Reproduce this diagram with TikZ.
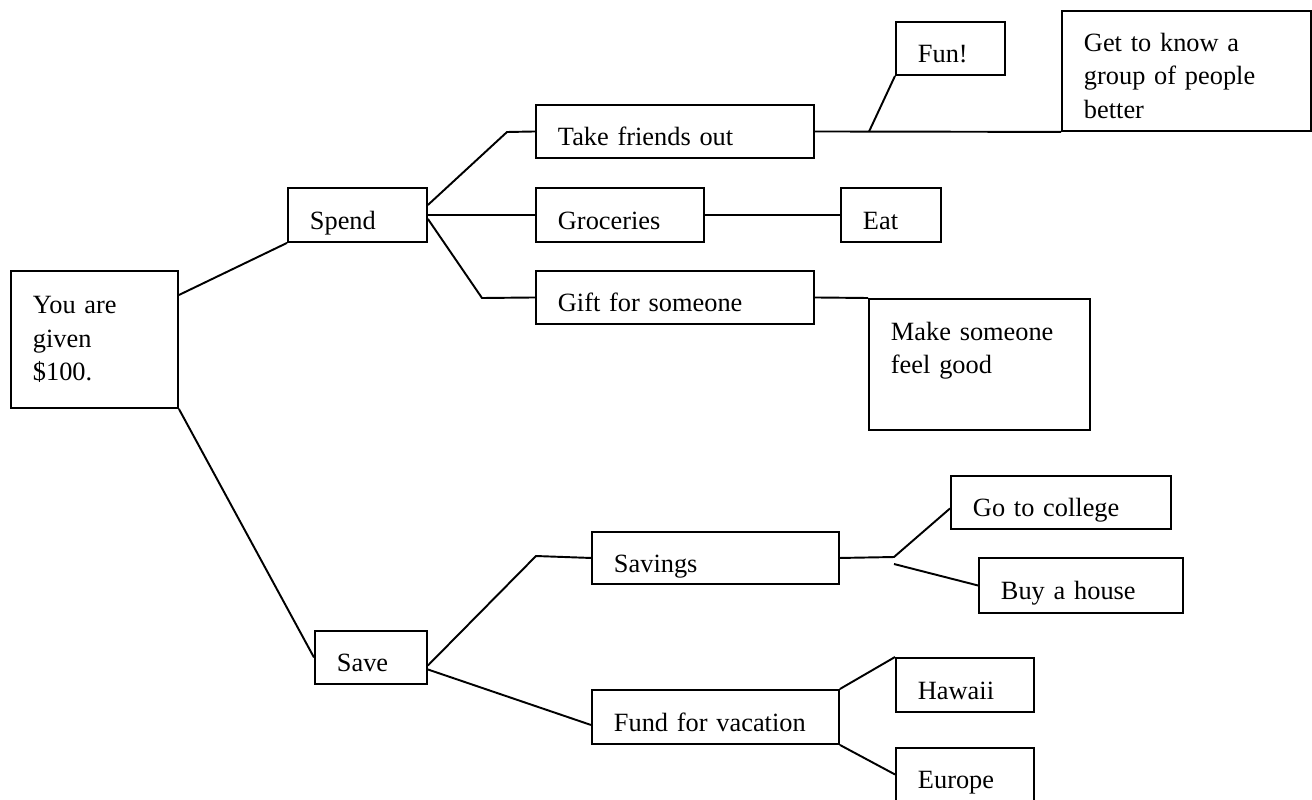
\documentclass[tikz,border=0pt]{standalone}
\usepackage{fontspec}
\setmainfont{Liberation Serif}
\usetikzlibrary{calc}

\begin{document}
\begin{tikzpicture}[x=0.02cm, y=-0.02cm, line width=1.1pt,
  every node/.style={font=\fontsize{15}{19}\selectfont},
  card/.style 2 args={draw, anchor=north west, align=left, inner xsep=0.44cm, inner ysep=0pt,
    text width=#1, minimum height=#2},
  oneline/.style={text height=16pt, text depth=0pt}]
  \useasboundingbox (0,0) rectangle (1312,799);
  % root and the two choices
  \node[card={2.46cm}{2.74cm}] (root) at (10,270) {You are\\given\\\$100.};
  \node[card={1.90cm}{1.08cm}, oneline] (spend) at (287,187) {Spend};
  \node[card={1.36cm}{1.06cm}, oneline] (save) at (314,630) {Save};
  \draw ($(root.north east)+(0,25)$) -- (spend.south west);
  \draw (root.south east) -- (save.west);
  %
  % spend branch
  \node[card={4.68cm}{1.06cm}, oneline] (friends) at (535,104) {Take friends out};
  \node[card={2.48cm}{1.08cm}, oneline] (groc) at (535,187) {Groceries};
  \node[card={4.68cm}{1.06cm}, oneline] (gift) at (535,270) {Gift for someone};
  \coordinate (temp1) at (507,132);
  \coordinate (temp2) at (482,298);
  \draw ($(spend.east)+(0,-10)$) -- (temp1) -- (friends.west);
  \draw (spend.east) -- (groc.west);
  \draw ($(spend.east)+(0,4)$) -- (temp2) -- (gift.west);
  %
  % what spending gives
  \node[card={1.30cm}{1.06cm}, oneline] (fun) at (895,21) {Fun!};
  \node[card={4.10cm}{2.40cm}, text height=16pt] (know) at (1061,10) {Get to know a\\group of people\\better};
  \node[card={1.12cm}{1.08cm}, oneline] (eat) at (840,187) {Eat};
  \node[card={3.54cm}{2.62cm}] (make) at (868,298) {Make someone\\feel good\\\mbox{}};
  \draw (friends.east) -- (know.south west);
  \coordinate (temp1) at ($(friends.east)!0.22!(know.south west)$);
  \draw (fun.south west) -- (temp1);
  \draw (groc.east) -- (eat.west);
  \draw (gift.east) -- (make.north west);
  %
  % save branch
  \node[card={4.06cm}{1.04cm}, oneline] (savings) at (591,531) {Savings};
  \node[card={4.06cm}{1.08cm}, oneline] (fund) at (591,689) {Fund for vacation};
  \coordinate (temp1) at (536,556);
  \draw ($(save.east)+(0,8)$) -- (temp1) -- (savings.west);
  \draw ($(save.east)+(0,12)$) -- ($(fund.west)+(0,8)$);
  %
  % what saving gives
  \node[card={3.52cm}{1.06cm}, oneline] (college) at (950,475) {Go to college};
  \node[card={3.20cm}{1.10cm}, oneline] (house) at (978,557) {Buy a house};
  \node[card={1.88cm}{1.08cm}, oneline] (hawaii) at (895,657) {Hawaii};
  \node[card={1.88cm}{1.06cm}, oneline] (europe) at (895,747) {Europe};
  \coordinate (temp1) at (894,557);
  \coordinate (temp2) at (894,564);
  \draw (savings.east) -- (temp1) -- ($(college.west)+(0,6)$);
  \draw (temp2) -- (house.west);
  \draw (fund.north east) -- (hawaii.north west);
  \draw (fund.south east) -- (europe.west);
\end{tikzpicture}
\end{document}
